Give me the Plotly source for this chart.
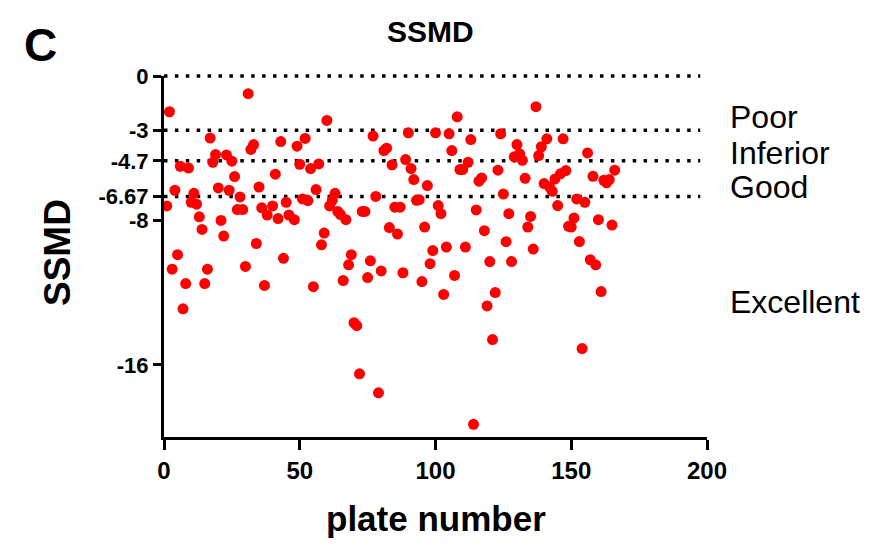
import plotly.graph_objects as go

plate = [1,2,3,4,5,6,7,8,9,10,11,12,13,14,15,16,17,18,19,20,21,22,23,24,25,26,27,28,29,30,
         31,32,33,34,35,36,37,38,40,41,42,43,44,45,46,48,49,50,51,52,53,54,55,56,57,58,59,60,
         61,62,63,64,65,66,67,68,69,70,71,72,73,74,75,76,77,78,79,80,81,82,83,84,85,86,87,88,
         89,90,91,92,93,94,95,96,97,98,99,100,101,102,103,104,105,106,107,108,109,110,111,112,
         113,114,115,116,117,118,119,120,121,122,123,124,125,126,127,128,129,130,131,132,133,
         134,135,136,137,138,139,140,141,142,143,144,145,146,147,148,149,150,151,152,153,154,
         155,156,157,158,159,160,161,162,163,164,165,166]
ssmd = [-7.2,-1.98,-10.7,-6.33,-9.9,-5.0,-12.9,-11.5,-5.1,-7.0,-6.5,-7.1,-7.8,-8.5,-11.5,-10.7,
        -3.44,-4.78,-4.35,-6.2,-8.0,-8.87,-4.37,-6.33,-4.72,-5.57,-7.4,-6.7,-7.4,-10.55,
        -0.98,-4.07,-3.8,-9.28,-6.15,-7.3,-11.6,-7.7,-7.2,-5.44,-7.9,-3.63,-10.1,-7.0,-7.7,
        -7.96,-3.89,-4.89,-6.81,-3.46,-6.9,-5.13,-11.67,-6.29,-4.87,-9.35,-8.7,-2.46,
        -7.2,-6.89,-6.5,-7.5,-7.68,-11.33,-7.96,-10.46,-9.9,-13.67,-13.83,-16.5,-7.5,-7.5,
        -11.17,-10.24,-3.33,-6.67,-17.55,-10.8,-4.13,-4.0,-8.4,-4.92,-7.27,-8.76,-7.27,-10.9,
        -4.63,-3.15,-5.13,-5.74,-6.89,-6.85,-11.39,-8.37,-6.07,-10.4,-9.67,-3.15,-7.18,-7.63,
        -12.1,-9.48,-3.2,-4.13,-11.05,-2.26,-5.18,-5.18,-9.48,-4.78,-3.52,-19.3,-7.42,-5.83,
        -5.65,-8.57,-12.74,-10.28,-14.6,-12.0,-5.22,-3.2,-6.54,-9.18,-7.63,-10.28,-4.48,-3.8,
        -4.31,-4.67,-5.67,-8.37,-7.78,-9.59,-1.7,-4.41,-3.92,-5.96,-3.48,-6.15,-6.39,-5.7,
        -7.18,-5.42,-3.48,-5.24,-8.33,-8.37,-7.87,-6.81,-9.17,-15.1,-7.0,-4.26,-10.18,-5.56,
        -10.46,-7.96,-11.94,-5.78,-5.92,-5.74,-8.26,-5.22]

y_ticks = [0, -3, -4.7, -6.67, -8, -16]
y_ticktext = ["0", "-3", "-4.7", "-6.67", "-8", "-16"]
x_ticks = [0, 50, 100, 150, 200]
thresholds = [0, -3, -4.7, -6.67]
class_labels = ["Poor", "Inferior", "Good", "Excellent"]
class_label_y = [-2.25, -4.25, -6.15, -12.5]

Y_MIN, Y_MAX = -20, 0
X_MIN, X_MAX = 0, 200
FONT = "Arial, Liberation Sans, sans-serif"


def ypaper(v):
    return (v - Y_MIN) / (Y_MAX - Y_MIN)


fig = go.Figure()
fig.add_trace(go.Scatter(x=plate, y=ssmd, mode="markers",
                         marker=dict(color="#ff0000", size=11, line=dict(width=0)),
                         cliponaxis=False, showlegend=False))

for t in thresholds:
    fig.add_shape(type="line", xref="paper", yref="paper", x0=0, x1=197.5 / X_MAX,
                  y0=ypaper(t), y1=ypaper(t),
                  line=dict(color="black", width=3.5, dash="3.5px,7.4px"), layer="below")

for lab, ly in zip(class_labels, class_label_y):
    fig.add_annotation(text=lab, x=(728 - 164) / 543, y=ypaper(ly), xref="paper", yref="paper",
                       xanchor="left", yanchor="middle", showarrow=False,
                       font=dict(family=FONT, size=32, color="black"))

fig.add_annotation(text="<b>SSMD</b>", xref="paper", yref="paper", x=0.49, y=1.122,
                   xanchor="center", yanchor="middle", showarrow=False,
                   font=dict(family=FONT, size=30, color="black"))
fig.add_annotation(text="<b>C</b>", xref="paper", yref="paper", x=(40 - 164) / 543,
                   y=(437 - 45) / 361, xanchor="center", yanchor="middle", showarrow=False,
                   font=dict(family=FONT, size=46, color="black"))
fig.add_annotation(text="<b>plate number</b>", xref="paper", yref="paper", x=0.5,
                   y=(437 - 518) / 361, xanchor="center", yanchor="middle", showarrow=False,
                   font=dict(family=FONT, size=35, color="black"))
fig.add_annotation(text="<b>SSMD</b>", xref="paper", yref="paper", x=(57 - 164) / 543,
                   y=(437 - 253) / 361, xanchor="center", yanchor="middle", textangle=-90,
                   showarrow=False, font=dict(family=FONT, size=37, color="black"))

fig.update_layout(
    width=880, height=546,
    margin=dict(l=164, r=173, t=76, b=109, pad=0),
    paper_bgcolor="white", plot_bgcolor="white",
    font=dict(family=FONT, color="black"),
    xaxis=dict(range=[X_MIN, X_MAX], tickvals=x_ticks, showgrid=False, zeroline=False,
               showline=True, linecolor="black", linewidth=3, ticks="outside",
               ticklen=10, tickwidth=3, tickcolor="black",
               tickfont=dict(family=FONT, size=24, color="black", weight="bold")),
    yaxis=dict(range=[Y_MIN, Y_MAX], tickvals=y_ticks, ticktext=y_ticktext, showgrid=False,
               zeroline=False, showline=True, linecolor="black", linewidth=3,
               ticks="outside", ticklen=8, tickwidth=3, tickcolor="black",
               tickfont=dict(family=FONT, size=22, color="black", weight="bold")),
)

fig.write_html("out.html")
